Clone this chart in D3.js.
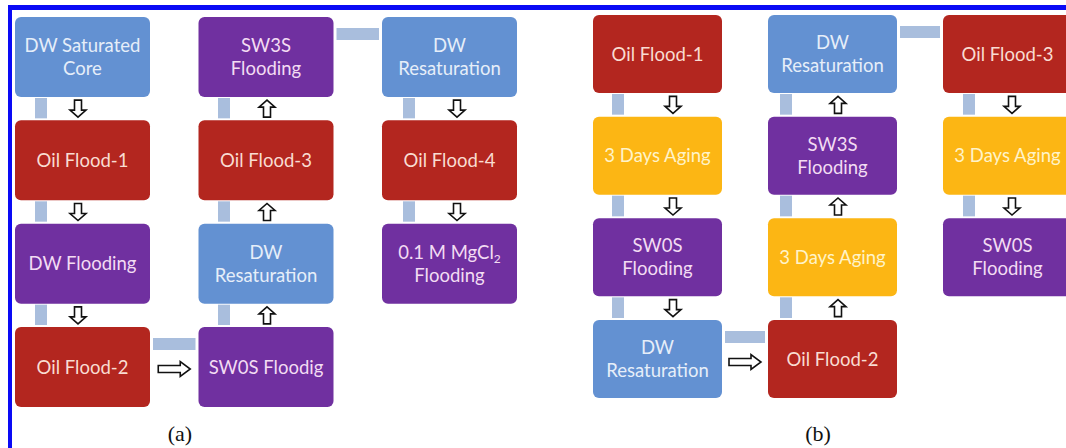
<!DOCTYPE html>
<html><head><meta charset="utf-8">
<script src="https://cdn.jsdelivr.net/npm/d3@7"></script>
<style>html,body{margin:0;padding:0;background:#fff;overflow:hidden}</style>
</head><body>
<svg id="chart" width="1066" height="448"></svg>
<script>
// ---- data ----
const stepsA = [
  ["DW Saturated|Core", "Oil Flood-1", "DW Flooding", "Oil Flood-2"],
  ["SW3S|Flooding", "Oil Flood-3", "DW|Resaturation", "SW0S Floodig"],
  ["DW|Resaturation", "Oil Flood-4", "0.1 M MgCl_2|Flooding"]
];
const typesA = [
  ["DW", "Oil", "Brine", "Oil"],
  ["Brine", "Oil", "DW", "Brine"],
  ["DW", "Oil", "Brine"]
];
const flowA = ["down", "up", "down"];
const linksA = [{from: 0, to: 1, row: 3, arrow: true}, {from: 1, to: 2, row: 0, arrow: false}];

const stepsB = [
  ["Oil Flood-1", "3 Days Aging", "SW0S|Flooding", "DW|Resaturation"],
  ["DW|Resaturation", "SW3S|Flooding", "3 Days Aging", "Oil Flood-2"],
  ["Oil Flood-3", "3 Days Aging", "SW0S|Flooding"]
];
const typesB = [
  ["Oil", "Aging", "Brine", "DW"],
  ["DW", "Brine", "Aging", "Oil"],
  ["Oil", "Aging", "Brine"]
];
const flowB = ["down", "up", "down"];
const linksB = [{from: 0, to: 1, row: 3, arrow: true}, {from: 1, to: 2, row: 0, arrow: false}];

const panelLabels = ["(a)", "(b)"];
const stepTypes = ["DW", "Oil", "Brine", "Aging"];

// ---- styles ----
const fillColor = d3.scaleOrdinal().domain(stepTypes).range(["#6391d2", "#b3261f", "#7030a0", "#fcb614"]);
const textColor = d3.scaleOrdinal().domain(stepTypes).range(["#e6eef9", "#f9dcd2", "#f3dcf3", "#fff3c8"]);
const barColor = "#a9bedd";

const svg = d3.select("#chart");

// frame
svg.append("rect").attr("x", 8).attr("y", 5).attr("width", 1066).attr("height", 5).attr("fill", "#0a0af5");
svg.append("rect").attr("x", 8).attr("y", 5).attr("width", 4).attr("height", 448).attr("fill", "#0a0af5");

const panels = [
  {steps: stepsA, types: typesA, flow: flowA, links: linksA, label: panelLabels[0],
   x: d3.scaleLinear().domain([0, 2]).range([15, 382]),
   y: d3.scaleLinear().domain([0, 3]).range([17, 327]),
   bar: d3.scaleLinear().domain([0, 1, 2]).range([35, 218, 403]),
   arr: d3.scaleLinear().domain([0, 1, 2]).range([78, 267, 457]),
   w: 135, h: 80, labelX: 180},
  {steps: stepsB, types: typesB, flow: flowB, links: linksB, label: panelLabels[1],
   x: d3.scaleLinear().domain([0, 2]).range([593, 943]),
   y: d3.scaleLinear().domain([0, 3]).range([15, 320]),
   bar: d3.scaleLinear().domain([0, 1, 2]).range([612, 780, 963]),
   arr: d3.scaleLinear().domain([0, 1, 2]).range([673, 838, 1012]),
   w: 129, h: 78, labelX: 818}
];

const downArrow = "M-3.5,-8.5 L3.5,-8.5 L3.5,1.5 L8,1.5 L0,8.5 L-8,1.5 L-3.5,1.5 Z";
const rightArrow = "M-16,-3.5 L6,-3.5 L6,-7.5 L16,0 L6,7.5 L6,3.5 L-16,3.5 Z";

panels.forEach(p => {
  const g = svg.append("g");
  const nodes = [];
  p.steps.forEach((col, c) => col.forEach((lab, r) => nodes.push({c, r, lab, type: p.types[c][r]})));

  // vertical connectors
  p.steps.forEach((col, c) => {
    for (let r = 0; r < col.length - 1; r++) {
      const y0 = p.y(r) + p.h, y1 = p.y(r + 1);
      g.append("rect").attr("x", p.bar(c)).attr("y", y0 + 1).attr("width", 12).attr("height", y1 - y0 - 3).attr("fill", barColor);
      g.append("path").attr("d", downArrow)
        .attr("transform", `translate(${p.arr(c)},${(y0 + y1) / 2}) rotate(${p.flow[c] === "down" ? 0 : 180})`)
        .attr("fill", "#fff").attr("stroke", "#111").attr("stroke-width", 1.6);
    }
  });

  // horizontal connectors
  p.links.forEach(l => {
    const x0 = p.x(l.from) + p.w, x1 = p.x(l.to);
    const top = p.y(l.row);
    g.append("rect").attr("x", x0 + 3).attr("y", top + 11).attr("width", x1 - x0 - 6).attr("height", 12).attr("fill", barColor);
    if (l.arrow) {
      g.append("path").attr("d", rightArrow)
        .attr("transform", `translate(${(x0 + x1) / 2},${top + 42})`)
        .attr("fill", "#fff").attr("stroke", "#111").attr("stroke-width", 1.6);
    }
  });

  // boxes
  const box = g.selectAll("g.box").data(nodes).join("g").attr("class", "box")
    .attr("transform", d => `translate(${p.x(d.c)},${p.y(d.r)})`);
  box.append("rect").attr("width", p.w).attr("height", p.h).attr("rx", 6)
    .attr("fill", d => fillColor(d.type));
  box.each(function(d) {
    const lines = d.lab.split("|");
    const t = d3.select(this).append("text")
      .attr("text-anchor", "middle")
      .attr("font-family", "Lato, 'Open Sans', sans-serif")
      .attr("font-size", 18.5)
      .attr("fill", textColor(d.type));
    const lh = 23;
    lines.forEach((ln, i) => {
      const yy = p.h / 2 + (i - (lines.length - 1) / 2) * lh + 6.5;
      const ts = t.append("tspan").attr("x", p.w / 2).attr("y", yy);
      const parts = ln.split("_");
      ts.text(parts[0]);
      if (parts.length > 1) {
        t.append("tspan").attr("font-size", 12).attr("dy", 4).text(parts[1]);
      }
    });
  });

  // panel label
  svg.append("text").attr("x", p.labelX).attr("y", 441).attr("text-anchor", "middle")
    .attr("font-family", "'Liberation Serif', 'Times New Roman', serif").attr("font-size", 22)
    .attr("fill", "#111").text(p.label);
});
</script>
</body></html>
